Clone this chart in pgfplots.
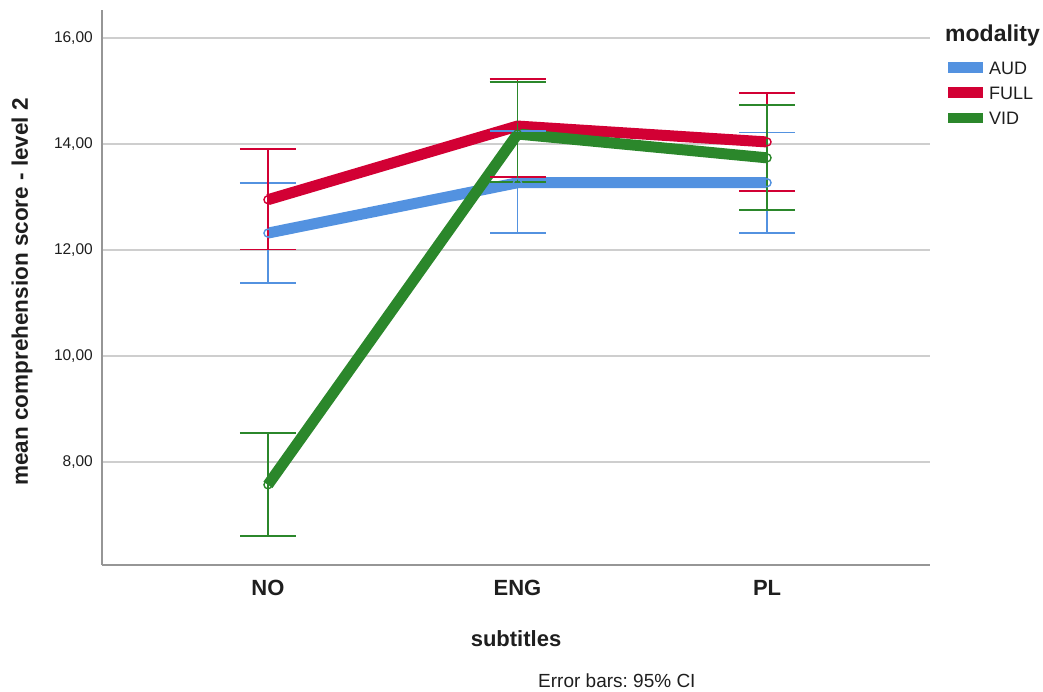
\documentclass[border=0pt]{standalone}
\usepackage{fontspec}
\setmainfont{Liberation Sans}
\usepackage{pgfplots}
\usepackage{pgfplotstable}
\pgfplotsset{compat=1.18}
\definecolor{audblue}{RGB}{83,146,224}
\definecolor{fullred}{RGB}{210,0,52}
\definecolor{vidgreen}{RGB}{43,135,43}
\definecolor{gridgray}{RGB}{206,206,206}
\definecolor{axisgray}{RGB}{150,150,150}
\definecolor{txt}{RGB}{30,30,30}

% x: 0=NO, 1=ENG, 2=PL ; y = mean ; ep/em = upper/lower 95% CI half-widths
\pgfplotstableread{
x y ep em
0 12.32 0.95 0.94
1 13.27 0.98 0.95
2 13.27 0.95 0.95
}\aud
\pgfplotstableread{
x y ep em
0 12.95 0.95 0.94
1 14.34 0.89 0.96
2 14.04 0.93 0.92
}\full
\pgfplotstableread{
x y ep em
0 7.57 0.98 0.97
1 14.19 0.98 0.91
2 13.74 1.00 0.99
}\vid

\begin{document}
\frenchspacing
\begin{tikzpicture}
\useasboundingbox (0pt,0pt) rectangle (1043pt,692pt);
\begin{axis}[
  at={(102pt,127pt)}, anchor=south west,
  scale only axis, width=828pt, height=555pt,
  xmin=-0.665, xmax=2.653, ymin=6.057, ymax=16.53,
  axis x line*=bottom, axis y line*=left,
  axis line style={draw=axisgray, line width=1.3pt, -},
  xtick={0,1,2}, xticklabels={NO,ENG,PL},
  ytick={8,10,12,14,16},
  major tick length=0pt,
  ymajorgrids, grid style={draw=gridgray, line width=1.5pt},
  xticklabel style={font=\fontsize{22}{22}\selectfont\bfseries, text=txt, anchor=base, yshift=-30.7pt},
  yticklabel style={font=\fontsize{15.5}{15.5}\selectfont, text=txt, anchor=east, inner sep=0pt, xshift=-9pt,
    /pgf/number format/.cd, fixed, fixed zerofill, precision=2, use comma, assume math mode=true},
  xlabel={subtitles},
  xlabel style={font=\fontsize{22}{22}\selectfont\bfseries, text=txt, at={(axis description cs:0.5,0)}, anchor=base, yshift=-82pt},
  ylabel={mean comprehension score - level 2},
  ylabel style={font=\fontsize{22.5}{22.5}\selectfont\bfseries, text=txt, at={(axis description cs:-0.0966,0.492)}, anchor=center},
]
% markers (open circles) below the lines
\addplot[only marks, mark=o, mark size=4pt, mark options={draw=audblue, line width=1.4pt}] table[x=x,y=y] {\aud};
\addplot[only marks, mark=o, mark size=4pt, mark options={draw=fullred, line width=1.4pt}] table[x=x,y=y] {\full};
\addplot[only marks, mark=o, mark size=4pt, mark options={draw=vidgreen, line width=1.4pt}] table[x=x,y=y] {\vid};
% thick mean lines
\addplot[audblue, line width=11pt, line cap=butt, line join=round, mark=none] table[x=x,y=y] {\aud};
\addplot[fullred, line width=11pt, line cap=butt, line join=round, mark=none] table[x=x,y=y] {\full};
\addplot[vidgreen, line width=11pt, line cap=butt, line join=round, mark=none] table[x=x,y=y] {\vid};
% error bars (95% CI)
\addplot[draw=none, mark=none, error bars/.cd, y dir=both, y explicit,
  error bar style={draw=audblue, line width=1.6pt}, error mark=|,
  error mark options={draw=audblue, line width=1.8pt, mark size=28pt}]
  table[x=x,y=y,y error plus=ep,y error minus=em] {\aud};
\addplot[draw=none, mark=none, error bars/.cd, y dir=both, y explicit,
  error bar style={draw=fullred, line width=1.6pt}, error mark=|,
  error mark options={draw=fullred, line width=1.8pt, mark size=28pt}]
  table[x=x,y=y,y error plus=ep,y error minus=em] {\full};
\addplot[draw=none, mark=none, error bars/.cd, y dir=both, y explicit,
  error bar style={draw=vidgreen, line width=1.6pt}, error mark=|,
  error mark options={draw=vidgreen, line width=1.8pt, mark size=28pt}]
  table[x=x,y=y,y error plus=ep,y error minus=em] {\vid};
\end{axis}
% legend
\node[anchor=base west, inner sep=0pt, text=txt, font=\fontsize{23}{23}\selectfont\bfseries] at (945pt,650pt) {modality};
\fill[audblue] (948pt,618.7pt) rectangle (983pt,630.3pt);
\fill[fullred] (948pt,593.7pt) rectangle (983pt,604.7pt);
\fill[vidgreen] (948pt,568.7pt) rectangle (983pt,579.3pt);
\node[anchor=base west, inner sep=0pt, text=txt, font=\fontsize{18}{18}\selectfont] at (989pt,617pt) {AUD};
\node[anchor=base west, inner sep=0pt, text=txt, font=\fontsize{18}{18}\selectfont] at (989pt,592pt) {FULL};
\node[anchor=base west, inner sep=0pt, text=txt, font=\fontsize{18}{18}\selectfont] at (989pt,567pt) {VID};
% footnote
\node[anchor=base west, inner sep=0pt, text=txt, font=\fontsize{19}{19}\selectfont] at (538pt,4pt) {Error bars: 95\% CI};
\end{tikzpicture}
\end{document}
